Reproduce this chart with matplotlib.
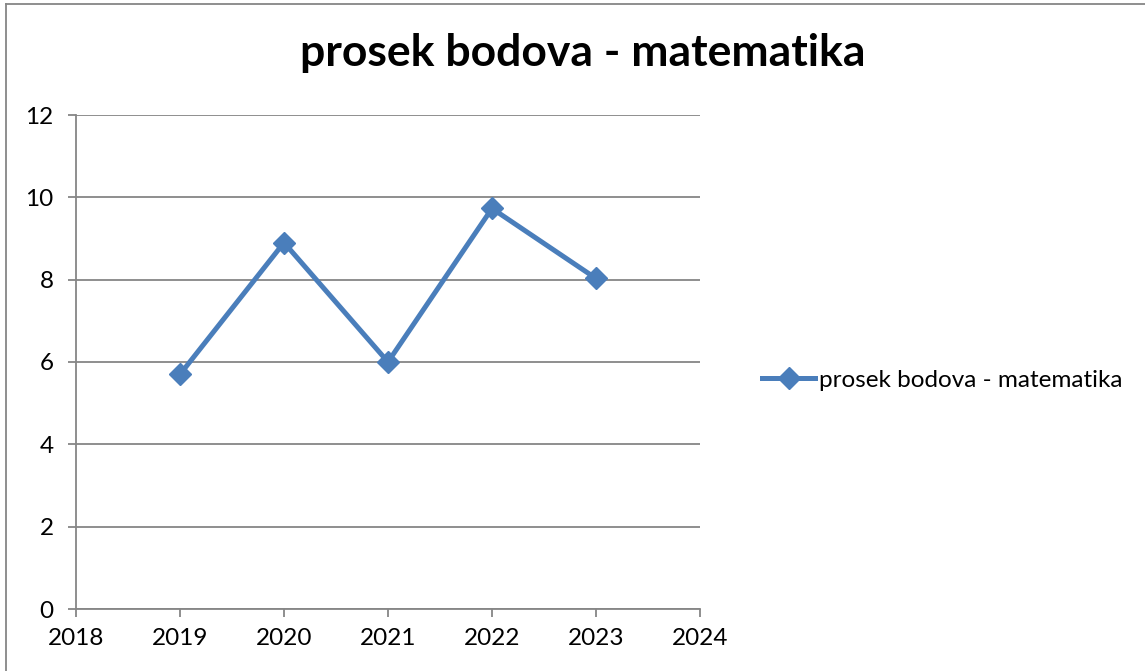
import matplotlib
matplotlib.use("Agg")
import matplotlib.pyplot as plt
from matplotlib.lines import Line2D

years = [2019, 2020, 2021, 2022, 2023]
values = [5.7, 8.9, 6.0, 9.73, 8.03]
series_name = "prosek bodova - matematika"
title = "prosek bodova - matematika"
xticks = [2018, 2019, 2020, 2021, 2022, 2023, 2024]
yticks = [0, 2, 4, 6, 8, 10, 12]

plt.rcParams['font.family'] = ['Lato', 'DejaVu Sans']
W, H = 1145, 671
fig = plt.figure(figsize=(W / 100, H / 100), dpi=100)
ax = fig.add_axes([76 / W, 1 - 609 / H, (700 - 76) / W, (609 - 115) / H])

blue = '#4A7EBB'
grid = '#868686'
ax.plot(years, values, color=blue, lw=3.6, marker='D', ms=11, mfc=blue, mec=blue,
        label=series_name)
ax.set_xlim(2018, 2024)
ax.set_ylim(0, 12)
ax.set_xticks(xticks)
ax.set_yticks(yticks)
ax.set_xticklabels([str(x) for x in xticks], fontsize=17.5)
ax.set_yticklabels([str(y) for y in yticks], fontsize=17.5)
ax.yaxis.grid(True, color=grid, lw=1.3)
ax.set_axisbelow(True)
for s in ['top', 'right']:
    ax.spines[s].set_visible(False)
for s in ['left', 'bottom']:
    ax.spines[s].set_color(grid)
    ax.spines[s].set_linewidth(1.3)
ax.tick_params(axis='both', direction='out', length=6, width=1.3, color=grid,
               labelcolor='black')
ax.tick_params(axis='x', pad=8)
ax.tick_params(axis='y', pad=10)

fig.text(583 / W, 1 - 53 / H, title, ha='center', va='center', fontsize=32,
         fontweight='bold')

handle = Line2D([], [], color=blue, lw=3.6, marker='D', ms=11, mfc=blue, mec=blue)
fig.legend([handle], [series_name], loc='center left',
           bbox_to_anchor=(762 / W, 1 - 380 / H), frameon=False, fontsize=17.5,
           handlelength=2.2, handletextpad=0.15, borderpad=0, borderaxespad=0)

# outer chart border
fig.add_artist(Line2D([6 / W, 6 / W], [0, 1 - 4 / H], color=grid, lw=1.3,
                      transform=fig.transFigure))
fig.add_artist(Line2D([6 / W, 1], [1 - 4 / H, 1 - 4 / H], color=grid, lw=1.3,
                      transform=fig.transFigure))

fig.savefig('out.png', dpi=100)
